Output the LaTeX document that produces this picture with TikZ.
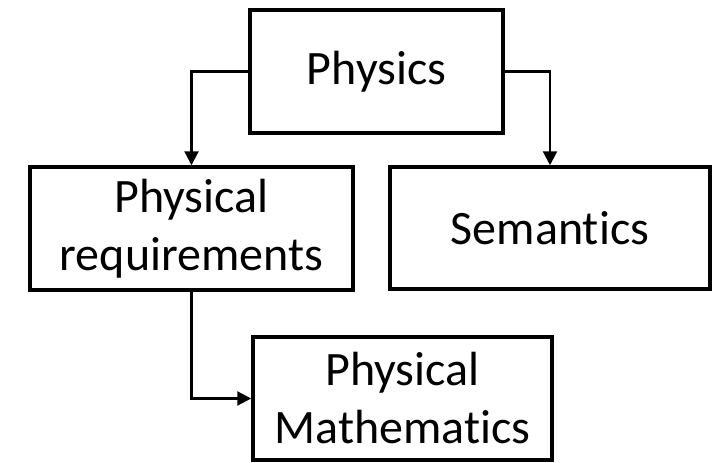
\documentclass[tikz,border=0pt]{standalone}
\usepackage{fontspec}
\setmainfont{Carlito}[Ligatures=NoCommon]
\usetikzlibrary{arrows.meta}

\begin{document}
\begin{tikzpicture}[
            x=1pt, y=-1pt,
            >={Triangle[length=14pt, width=14pt]},
            box/.style={draw, line width=3.5pt, inner sep=0pt, align=center,
                        font=\fontsize{48}{58}\selectfont},
            flow/.style={->, line width=2.2pt}
          ]
          \useasboundingbox (0,0) rectangle (720,463);
          \node[box, minimum width=253pt, minimum height=123pt] (phys) at (376.5,71.5)  {Physics};
          \node[box, minimum width=323pt, minimum height=123pt] (req)  at (191.5,228.5) {Physical\\requirements};
          \node[box, minimum width=320pt, minimum height=122pt] (sem)  at (550,228)     {Semantics};
          \node[box, minimum width=299pt, minimum height=123pt] (math) at (402.5,398.5) {Physical\\Mathematics};
          \draw[flow] (phys.west) -| (req.north);
          \draw[flow] (phys.east) -| (sem.north);
          \draw[flow] (req.south) |- (math.west);
        \end{tikzpicture}
\end{document}
